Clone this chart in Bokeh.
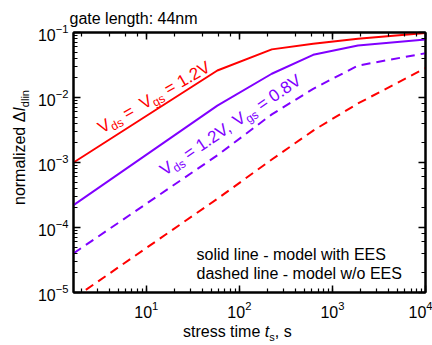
import math
from bokeh.plotting import figure
from bokeh.models import LogAxis, Label, Range1d, CustomJSTickFormatter, Div
from bokeh.layouts import row, column
from bokeh.embed import file_html
from bokeh.resources import INLINE

# ---------------- data ----------------
stress_time = [1.65, 58, 223, 621, 1880, 10000]
red_with_ees = [1.0e-3, 0.026, 0.055, 0.067, 0.080, 0.098]
purple_with_ees = [2.2e-4, 7.5e-3, 0.0232, 0.0454, 0.063, 0.078]
purple_wo_ees = [4.0e-5, 1.29e-3, 5.5e-3, 0.0136, 0.031, 0.048]
red_wo_ees = [8.1e-6, 2.77e-4, 1.11e-3, 3.1e-3, 8.1e-3, 0.0283]

RED = "#ff0000"
PURPLE = "#8000ff"
FONT = "Liberation Sans"

YDIV_W = 34
XDIV_H = 19

p = figure(width=432 - YDIV_W, height=345 - XDIV_H, x_axis_type="log", y_axis_type="log",
           x_range=Range1d(1.65, 1e4), y_range=Range1d(1e-5, 1e-1),
           output_backend="svg", toolbar_location=None,
           min_border_left=72 - YDIV_W, min_border_right=7, min_border_top=32,
           min_border_bottom=34)
p.background_fill_color = "white"
p.border_fill_color = "white"
p.outline_line_color = "black"
p.outline_line_width = 2
p.xgrid.visible = False
p.ygrid.visible = False

p.title.text = "gate length: 44nm"
p.title.align = "left"
p.title.offset = -4
p.title.standoff = 12
p.title.text_font = FONT
p.title.text_font_size = "16px"
p.title.text_font_style = "normal"
p.title.text_color = "black"

p.add_layout(LogAxis(formatter=CustomJSTickFormatter(code="return ''")), "above")
p.add_layout(LogAxis(formatter=CustomJSTickFormatter(code="return ''")), "right")

for ax in p.axis:
    ax.axis_line_width = 2
    ax.axis_line_color = "black"
    ax.major_tick_in = 7
    ax.major_tick_out = 0
    ax.minor_tick_in = 4
    ax.minor_tick_out = 0
    ax.major_tick_line_width = 1.5
    ax.minor_tick_line_width = 1.2
    ax.major_tick_line_color = "black"
    ax.minor_tick_line_color = "black"
    ax.major_label_text_font = FONT
    ax.major_label_text_font_size = "16px"
    ax.major_label_text_color = "black"

for ax in p.above + p.right:
    ax.major_label_standoff = 0

p.below[0].major_label_standoff = 8
p.left[0].major_label_standoff = 5

# ---------------- lines ----------------
p.line(stress_time, red_with_ees, line_color=RED, line_width=2)
p.line(stress_time, purple_with_ees, line_color=PURPLE, line_width=2)
p.line(stress_time, purple_wo_ees, line_color=PURPLE, line_width=2, line_dash="9 6")
p.line(stress_time, red_wo_ees, line_color=RED, line_width=2, line_dash="9 6")

# ---------------- text helpers ----------------
W = {'a': .556, 'b': .556, 'c': .5, 'd': .556, 'e': .556, 'f': .278, 'g': .556,
     'h': .556, 'i': .222, 'j': .222, 'k': .5, 'l': .222, 'm': .833, 'n': .556,
     'o': .556, 'p': .556, 'q': .556, 'r': .333, 's': .5, 't': .278, 'u': .556,
     'v': .5, 'w': .722, 'x': .5, 'y': .5, 'z': .5, ' ': .278, '=': .584,
     '.': .278, ',': .278, '-': .333, ':': .278, 'V': .667, 'I': .278,
     'E': .667, 'S': .667, 'Δ': .668, '0': .556, '1': .556, '2': .556,
     '3': .556, '4': .556, '5': .556, '6': .556, '7': .556, '8': .556,
     '9': .556, '/': .278}


def text_width(s, size):
    return sum(W.get(c, .556) for c in s) * size


def runs(parts, x0, y0, angle, color="black"):
    a = math.radians(angle)
    ux, uy = math.cos(a), math.sin(a)
    pos = 0.0
    for txt, size, style, shift in parts:
        for k, word in enumerate(txt.split(" ")):
            if k > 0:
                pos += W[' '] * size
            if not word:
                continue
            x = x0 + pos * ux + shift * math.sin(a)
            y = y0 + pos * uy - shift * math.cos(a)
            p.add_layout(Label(x=x, y=y, x_units="screen", y_units="screen",
                               text=word, angle=angle, angle_units="deg",
                               text_font=FONT, text_font_size=f"{size}px",
                               text_font_style=style, text_color=color,
                               text_align="left", text_baseline="alphabetic"))
            pos += text_width(word, size)


# curve annotations
runs([("V", 17, "normal", 0), ("ds", 12, "normal", 5), (" =  V", 17, "normal", 0),
      ("gs", 12, "normal", 5), (" = 1.2V", 17, "normal", 0)],
     25.8, 163.5, 30, RED)
runs([("V", 17, "normal", 0), ("ds", 12, "normal", 5), (" = 1.2V, V", 17, "normal", 0),
      ("gs", 12, "normal", 5), (" = 0.8V", 17, "normal", 0)],
     88.2, 120.9, 34, PURPLE)

# legend-like notes
runs([("solid line - model with EES", 16, "normal", 0)], 123, 38, 0)
runs([("dashed line - model w/o EES", 16, "normal", 0)], 123, 19, 0)

# ---------------- axis titles (rich text) ----------------
SPAN = ("position:absolute;font-family:'Liberation Sans';font-size:16px;"
        "line-height:16px;white-space:nowrap;color:black;")
SUB = "font-size:11px;vertical-align:-4px;"

ylabel_html = (
    f'<div style="position:relative;width:{YDIV_W}px;height:345px;">'
    f'<span style="{SPAN}left:12px;top:205px;transform:rotate(-90deg);transform-origin:0 0;">'
    f'normalized &Delta;<i>I</i><span style="{SUB}">dlin</span></span></div>')
xlabel_html = (
    f'<div style="position:relative;width:{432 - YDIV_W}px;height:{XDIV_H}px;">'
    f'<span style="{SPAN}left:{183 - YDIV_W}px;top:-2.5px;">'
    f'stress time <i>t</i><span style="{SUB}">s</span>, s</span></div>')

ydiv = Div(text=ylabel_html, width=YDIV_W, height=345, margin=0,
           styles={"overflow": "visible"})
xdiv = Div(text=xlabel_html, width=432 - YDIV_W, height=XDIV_H, margin=0,
           styles={"overflow": "visible"})

layout = row(ydiv, column(p, xdiv, spacing=0), spacing=0)

open("out.html", "w").write(file_html(layout, INLINE))
